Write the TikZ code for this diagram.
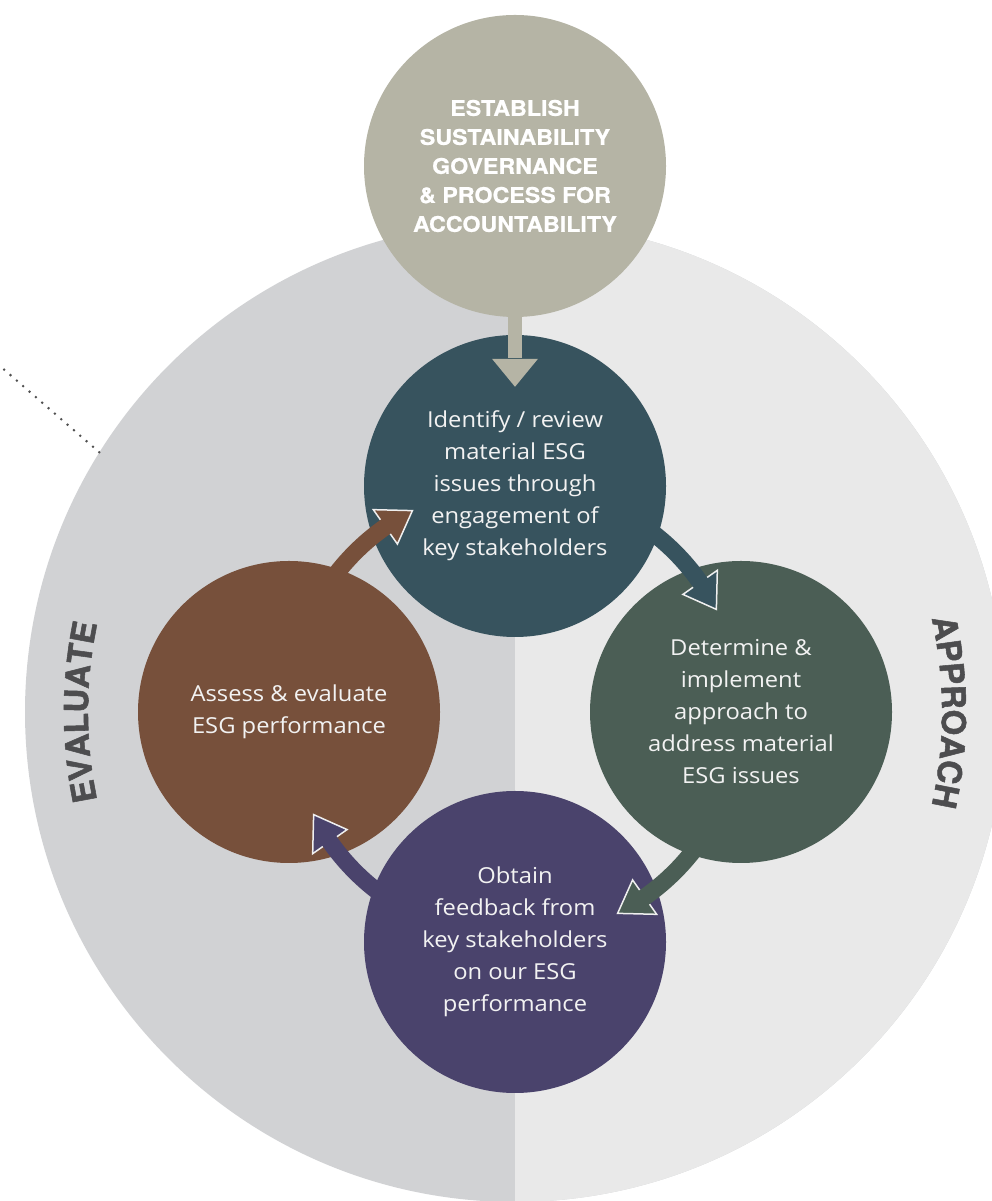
\documentclass[tikz,border=0pt]{standalone}
\usepackage{fontspec}
\setsansfont[FakeStretch=1.08]{Open Sans}
\newfontfamily\capsfont[FakeStretch=1.08,FakeBold=0.8]{texgyreheros-bold.otf}
\newfontfamily\sidefont[FakeBold=1.6]{texgyreheros-bold.otf}
\usetikzlibrary{calc,decorations.text}
\definecolor{leftbg}{HTML}{D1D2D4}
\definecolor{rightbg}{HTML}{E9E9E9}
\definecolor{topc}{HTML}{B5B4A5}
\definecolor{tealc}{HTML}{37535E}
\definecolor{greenc}{HTML}{4B5E55}
\definecolor{purplec}{HTML}{4A436C}
\definecolor{brownc}{HTML}{77503B}
\definecolor{sidegray}{HTML}{4D4D4F}
\definecolor{headline}{HTML}{EFEFEF}
\definecolor{dotc}{HTML}{505050}
\definecolor{bodytext}{HTML}{F2F2F2}
\newcommand\cyclearrow[2]{%
  \fill[#2, draw=headline, line width=1.5] ($(C)+(#1+27:226)$) -- ($(C)+(#1+35:205)$) -- ($(C)+(#1+35:247)$) -- cycle;
  \draw[#2, line width=17] ($(C)+(#1+60:226)$) arc[start angle=#1+60, end angle=#1+34.3, radius=226];
}
\begin{document}
\begin{tikzpicture}[x=1pt,y=1pt,
  stepcirc/.style={circle, inner sep=0pt, minimum size=302pt, text=bodytext, align=center,
    font=\sffamily\fontsize{22}{32}\selectfont},
  sidetext/.style={decorate, decoration={text along path, text align=center, text color=sidegray,
    text={|\sidefont\fontsize{33}{33}\selectfont|#1}}}]
\useasboundingbox (0,0) rectangle (992,1201);
\coordinate (C) at (515,489);
\begin{scope}
\clip (0,0) rectangle (992,1201);
\node[circle, inner sep=0pt, minimum size=980pt, fill=leftbg,
  path picture={\fill[rightbg] (path picture bounding box.south) rectangle (path picture bounding box.north east);}]
  (big) at (C) {};
\end{scope}
\coordinate (dotstart) at (0,835);
\draw[dotc, line width=2.8, line cap=round, dash pattern=on 0pt off 8.4pt] (big.148.4) -- (dotstart);
% side labels
\path[sidetext={EVALUATE}] ($(C)+(205:427)$) arc[start angle=205, end angle=155, radius=427];
\path[sidetext={APPROACH}] ($(C)+(25:427)$) arc[start angle=25, end angle=-25, radius=427];
% circles
\node[stepcirc, fill=topc, text=white, font=\capsfont\fontsize{21.5}{29}\selectfont] (top) at (515,1035)
  {ESTABLISH\\SUSTAINABILITY\\GOVERNANCE\\\& PROCESS FOR\\ACCOUNTABILITY};
\node[stepcirc, fill=tealc] (identify) at ($(C)+(90:226)$)
  {Identify / review\\material ESG\\issues through\\engagement of\\key stakeholders};
\node[stepcirc, fill=greenc] (determine) at ($(C)+(0:226)$)
  {Determine \&\\implement\\approach to\\address material\\ESG issues};
\node[stepcirc, fill=purplec, yshift=-4pt] (obtain) at ($(C)+(270:226)$)
  {Obtain\\feedback from\\key stakeholders\\on our ESG\\performance};
\node[stepcirc, fill=brownc] (assess) at ($(C)+(180:226)$)
  {Assess \& evaluate\\ESG performance};
% top arrow
\fill[topc] ([xshift=-7pt,yshift=6pt]top.south) rectangle ([xshift=7pt,yshift=-23pt]identify.north);
\fill[topc] ([xshift=-23pt,yshift=-24pt]identify.north) -- ([xshift=23pt,yshift=-24pt]identify.north)
  -- ([yshift=-52pt]identify.north) -- cycle;
% cycle arrows
\cyclearrow{0}{tealc}
\cyclearrow{-90}{greenc}
\cyclearrow{180}{purplec}
\cyclearrow{90}{brownc}
\end{tikzpicture}
\end{document}
